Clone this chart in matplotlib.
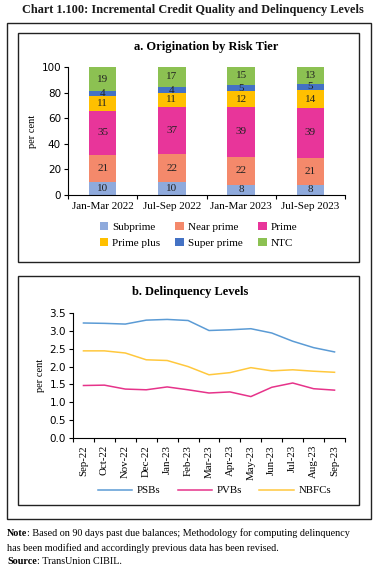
import matplotlib.pyplot as plt
from matplotlib.patches import Rectangle
import numpy as np

# panel a data
periods = ['Jan-Mar 2022', 'Jul-Sep 2022', 'Jan-Mar 2023', 'Jul-Sep 2023']
tiers = ['Subprime', 'Near prime', 'Prime', 'Prime plus', 'Super prime', 'NTC']
subprime = [10, 10, 8, 8]
near_prime = [21, 22, 22, 21]
prime = [35, 37, 39, 39]
prime_plus = [11, 11, 12, 14]
super_prime = [4, 4, 5, 5]
ntc = [19, 17, 15, 13]
tier_colors = ['#8FAADC', '#F4896B', '#E8359A', '#FFC000', '#4472C4', '#8CC152']

# panel b data
months = ['Sep-22', 'Oct-22', 'Nov-22', 'Dec-22', 'Jan-23', 'Feb-23', 'Mar-23',
          'Apr-23', 'May-23', 'Jun-23', 'Jul-23', 'Aug-23', 'Sep-23']
psbs = [3.22, 3.21, 3.19, 3.30, 3.32, 3.29, 3.01, 3.03, 3.06, 2.94, 2.71, 2.53, 2.41]
pvbs = [1.47, 1.48, 1.37, 1.35, 1.43, 1.35, 1.26, 1.29, 1.16, 1.42, 1.54, 1.38, 1.34]
nbfcs = [2.44, 2.44, 2.38, 2.19, 2.17, 2.00, 1.77, 1.83, 1.97, 1.88, 1.91, 1.87, 1.84]

serif = 'Liberation Serif'
sans = 'DejaVu Sans'

W, H = 380, 573
fig = plt.figure(figsize=(W / 100, H / 100), dpi=100)


def box(x0, y0, x1, y1):
    fig.patches.append(Rectangle((x0 / W, 1 - y1 / H), (x1 - x0) / W, (y1 - y0) / H,
                                 transform=fig.transFigure, fill=False,
                                 edgecolor='#222222', linewidth=1.0))


box(7, 23, 371, 519)
box(18, 33, 359, 262)
box(18, 276, 359, 505)

fig.text(22 / W, 1 - 10 / H, 'Chart 1.100: Incremental Credit Quality and Delinquency Levels',
         fontfamily=serif, fontweight='bold', fontsize=8.8, va='center', ha='left', color='#1a1a1a')

# panel a
ax1 = fig.add_axes([68 / W, 1 - 195 / H, (345 - 68) / W, (195 - 67) / H])
x = np.arange(len(periods))
series = [subprime, near_prime, prime, prime_plus, super_prime, ntc]
bottom = np.zeros(len(periods))
handles = []
for name, vals, c in zip(tiers, series, tier_colors):
    h = ax1.bar(x, vals, bottom=bottom, width=0.4, color=c, label=name)
    handles.append(h)
    for xi, b, v in zip(x, bottom, vals):
        ax1.text(xi, b + v / 2, str(v), ha='center', va='center',
                 fontsize=8, fontfamily=serif, color='#222222')
    bottom += np.array(vals)

ax1.set_xlim(-0.5, len(periods) - 0.5)
ax1.set_ylim(0, 100)
ax1.set_yticks(range(0, 101, 20))
ax1.set_xticks(np.arange(-0.5, len(periods), 1))
ax1.set_xticklabels([])
ax1.set_xticks(x, minor=True)
ax1.set_xticklabels(periods, minor=True, fontfamily=serif, fontsize=8)
ax1.tick_params(axis='x', which='minor', length=0, pad=5)
ax1.tick_params(axis='x', which='major', length=3, direction='out')
ax1.tick_params(axis='y', labelsize=7.5, length=3, pad=2)
for lab in ax1.get_yticklabels():
    lab.set_fontfamily(sans)
ax1.set_ylabel('per cent', fontfamily=serif, fontsize=7.5, labelpad=3)
for s in ['top', 'right']:
    ax1.spines[s].set_visible(False)
ax1.set_title('a. Origination by Risk Tier', fontfamily=serif, fontweight='bold',
              fontsize=9, pad=12)
# row-wise legend order
order = [0, 3, 1, 4, 2, 5]
ax1.legend([handles[i] for i in order], [tiers[i] for i in order],
           loc='upper center', bbox_to_anchor=(0.47, -0.13), ncol=3, frameon=False,
           prop={'family': serif, 'size': 8}, handlelength=0.8, handleheight=0.8,
           handletextpad=0.3, columnspacing=1.4, labelspacing=0.55)

# panel b
ax2 = fig.add_axes([73 / W, 1 - 438 / H, (345 - 73) / W, (438 - 313) / H])
xm = np.arange(len(months))
ax2.plot(xm, psbs, color='#5B9BD5', linewidth=1.1, label='PSBs')
ax2.plot(xm, pvbs, color='#E6338A', linewidth=1.1, label='PVBs')
ax2.plot(xm, nbfcs, color='#FFC83D', linewidth=1.1, label='NBFCs')
ax2.set_xlim(-0.5, len(months) - 0.5)
ax2.set_ylim(0, 3.5)
ax2.set_yticks(np.arange(0, 3.51, 0.5))
ax2.set_yticklabels([f'{v:.1f}' for v in np.arange(0, 3.51, 0.5)])
ax2.set_xticks(np.arange(-0.5, len(months), 1))
ax2.set_xticklabels([])
ax2.set_xticks(xm, minor=True)
ax2.set_xticklabels(months, minor=True, rotation=90, fontfamily=serif, fontsize=7.8)
ax2.tick_params(axis='x', which='minor', length=0, pad=5)
ax2.tick_params(axis='x', which='major', length=3)
ax2.tick_params(axis='y', labelsize=7.5, length=3, pad=2)
for lab in ax2.get_yticklabels():
    lab.set_fontfamily(sans)
ax2.set_ylabel('per cent', fontfamily=serif, fontsize=7.5, labelpad=3)
for s in ['top', 'right']:
    ax2.spines[s].set_visible(False)
fig.text(190 / W, 1 - 292 / H, 'b. Delinquency Levels', fontfamily=serif,
         fontweight='bold', fontsize=9, ha='center', va='center')
ax2.legend(loc='center', bbox_to_anchor=(0.52, 0.5 - (490 - 375) / 125), ncol=3,
           frameon=False, prop={'family': serif, 'size': 7.8}, handlelength=3.2,
           handletextpad=0.4, columnspacing=1.6)

# notes: bold lead word followed by plain text
renderer = fig.canvas.get_renderer()
note_kw = dict(fontfamily=serif, fontsize=7.3, va='center')


def note_line(y, lead, rest):
    x0 = 7 / W
    if lead:
        t = fig.text(x0, 1 - y / H, lead, fontweight='bold', **note_kw)
        w = t.get_window_extent(renderer=renderer).width
        x0 += w / (W * fig.dpi / 100)
    fig.text(x0, 1 - y / H, rest, **note_kw)


note_line(533, 'Note', ': Based on 90 days past due balances; Methodology for computing delinquency')
note_line(548, '', 'has been modified and accordingly previous data has been revised.')
note_line(562, 'Source', ': TransUnion CIBIL.')

plt.savefig('out.png', dpi=100)
